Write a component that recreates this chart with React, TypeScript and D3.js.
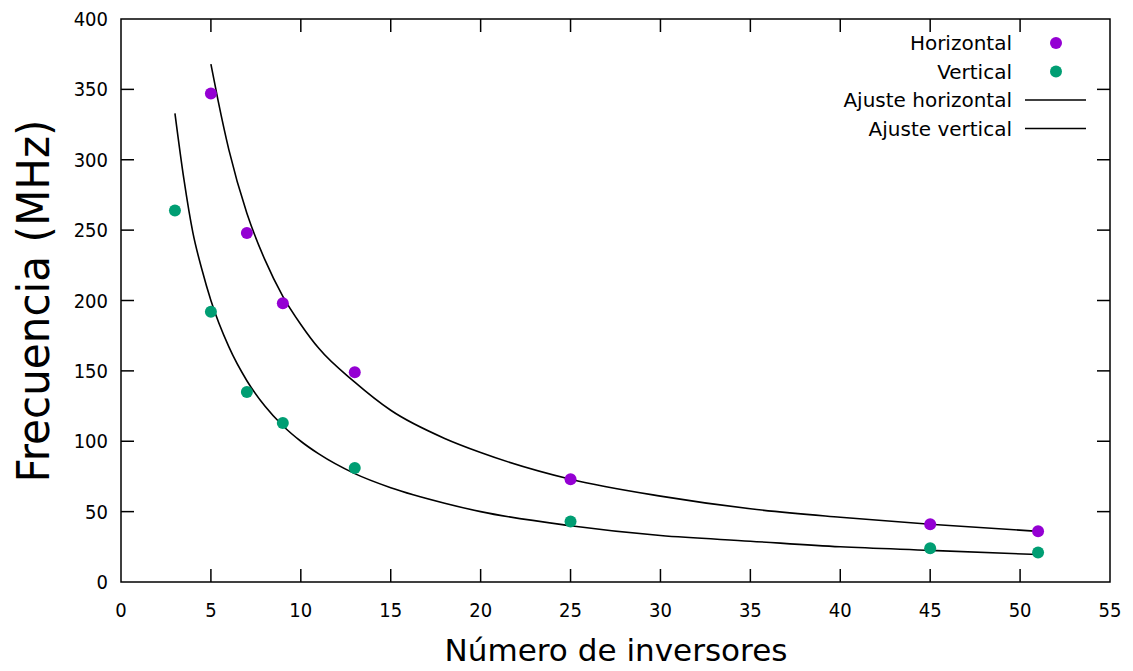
import React from 'react';
import * as d3 from 'd3';

// measured points
const inversores = [5, 7, 9, 13, 25, 45, 51];
const horizontal = [347, 248, 198, 149, 73, 41, 36];
const inversoresV = [3, 5, 7, 9, 13, 25, 45, 51];
const vertical = [264, 192, 135, 113, 81, 43, 24, 21];

// fit curves
const ajusteHX = [5, 5.4, 6, 7, 8, 9, 10, 11, 13, 15, 18, 20, 25, 30, 35, 40, 45, 51];
const ajusteHY = [368, 342, 307, 262, 229, 203, 183, 166, 142, 122, 102, 92, 73, 61, 52, 46, 41, 36];
const ajusteVX = [3, 3.5, 4, 4.5, 5, 6, 7, 8, 9, 10, 11, 13, 15, 18, 20, 25, 30, 35, 40, 45, 51];
const ajusteVY = [333, 286, 248, 222, 200, 167, 143, 125, 111, 100, 91, 77, 67, 56, 50, 40, 33, 29, 25, 22.5, 19.5];

const xTicks = [0, 5, 10, 15, 20, 25, 30, 35, 40, 45, 50, 55];
const yTicks = [0, 50, 100, 150, 200, 250, 300, 350, 400];

const legendItems = [
  { label: 'Horizontal', kind: 'dot', color: '#9400d3' },
  { label: 'Vertical', kind: 'dot', color: '#009e73' },
  { label: 'Ajuste horizontal', kind: 'line', color: '#000' },
  { label: 'Ajuste vertical', kind: 'line', color: '#000' },
];

const W = 1133;
const H = 671;
const m = { left: 121, right: 1110, top: 19, bottom: 582 };
const font = '"DejaVu Sans", Verdana, sans-serif';

export default function App() {
  const x = d3.scaleLinear().domain([0, 55]).range([m.left, m.right]);
  const y = d3.scaleLinear().domain([0, 400]).range([m.bottom, m.top]);
  const line = d3.line<[number, number]>().x(d => x(d[0])).y(d => y(d[1])).curve(d3.curveMonotoneX);
  const hFit = line(ajusteHX.map((v, i) => [v, ajusteHY[i]]));
  const vFit = line(ajusteVX.map((v, i) => [v, ajusteVY[i]]));
  const tl = 13;

  return (
    <svg width={W} height={H} style={{ position: 'absolute', left: 0, top: 0, background: '#fff' }}>
      {/* ticks, mirrored on all sides */}
      <g stroke="#000" strokeWidth={1.5}>
        {xTicks.slice(1, -1).map(t => (
          <g key={'xt' + t}>
            <line x1={x(t)} x2={x(t)} y1={m.bottom} y2={m.bottom - tl} />
            <line x1={x(t)} x2={x(t)} y1={m.top} y2={m.top + tl} />
          </g>
        ))}
        {yTicks.slice(1, -1).map(t => (
          <g key={'yt' + t}>
            <line x1={m.left} x2={m.left + tl} y1={y(t)} y2={y(t)} />
            <line x1={m.right} x2={m.right - tl} y1={y(t)} y2={y(t)} />
          </g>
        ))}
      </g>
      <rect x={m.left} y={m.top} width={m.right - m.left} height={m.bottom - m.top}
        fill="none" stroke="#000" strokeWidth={1.5} />

      <g fontFamily="'DejaVu Sans Condensed', 'DejaVu Sans', sans-serif" fontSize={20} fill="#000">
        {xTicks.map(t => (
          <text key={'xl' + t} x={x(t)} y={617} textAnchor="middle">{t}</text>
        ))}
        {yTicks.map(t => (
          <text key={'yl' + t} x={108} y={y(t) + 7} textAnchor="end">{t}</text>
        ))}
      </g>

      <text x={616} y={661} textAnchor="middle" fontFamily={font} fontSize={31}
        textLength={343} lengthAdjust="spacingAndGlyphs">Número de inversores</text>
      <text transform={`translate(49,${301}) rotate(-90)`} textAnchor="middle" fontFamily={font}
        fontSize={44} textLength={363} lengthAdjust="spacingAndGlyphs">Frecuencia (MHz)</text>

      {/* fits */}
      <path d={hFit || ''} fill="none" stroke="#000" strokeWidth={1.6} />
      <path d={vFit || ''} fill="none" stroke="#000" strokeWidth={1.6} />

      {/* points */}
      {inversores.map((v, i) => (
        <circle key={'h' + i} cx={x(v)} cy={y(horizontal[i])} r={6} fill="#9400d3" />
      ))}
      {inversoresV.map((v, i) => (
        <circle key={'v' + i} cx={x(v)} cy={y(vertical[i])} r={6} fill="#009e73" />
      ))}

      {/* legend */}
      <g fontFamily={font} fontSize={20}>
        {legendItems.map((it, i) => {
          const ly = 43 + i * 28.5;
          return (
            <g key={it.label}>
              <text x={1012} y={ly + 7} textAnchor="end">{it.label}</text>
              {it.kind === 'dot'
                ? <circle cx={1056} cy={ly} r={6} fill={it.color} />
                : <line x1={1025} x2={1086} y1={ly} y2={ly} stroke={it.color} strokeWidth={1.6} />}
            </g>
          );
        })}
      </g>
    </svg>
  );
}
